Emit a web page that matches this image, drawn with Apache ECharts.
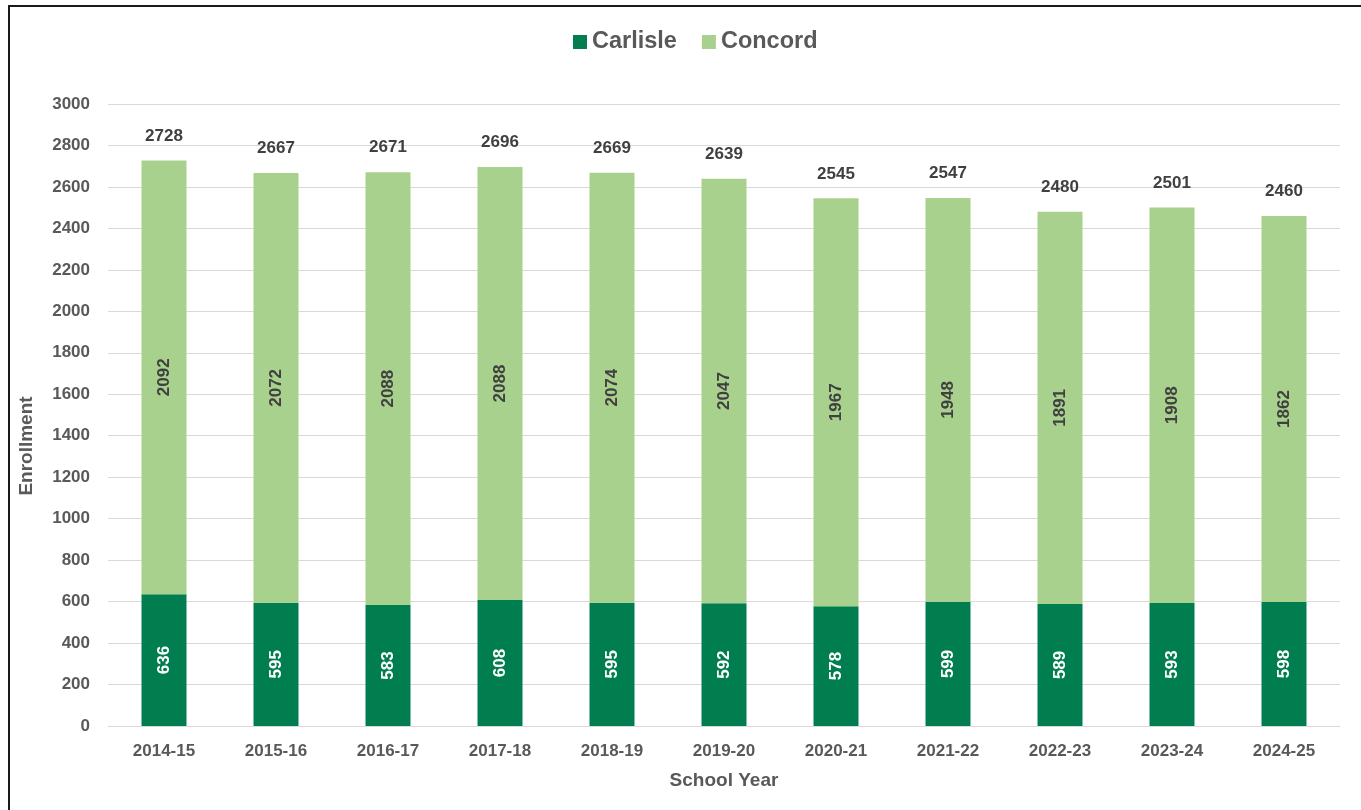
<!DOCTYPE html>
<html>
<head>
<meta charset="utf-8">
<style>
  html, body { margin: 0; padding: 0; background: #fff; overflow: hidden; }
  #frame { position: absolute; left: 8px; top: 5px; width: 1400px; height: 900px; border: 2px solid #1a1a1a; box-sizing: border-box; }
  #chart { position: absolute; left: 0; top: 0; width: 1361px; height: 810px; }
</style>
<script src="https://cdn.jsdelivr.net/npm/echarts@6/dist/echarts.min.js"></script>
</head>
<body>
<div id="frame"></div>
<div id="chart"></div>
<script>
const categories = ['2014-15','2015-16','2016-17','2017-18','2018-19','2019-20','2020-21','2021-22','2022-23','2023-24','2024-25'];
const carlisle = [636, 595, 583, 608, 595, 592, 578, 599, 589, 593, 598];
const concord = [2092, 2072, 2088, 2088, 2074, 2047, 1967, 1948, 1891, 1908, 1862];
const totals = [2728, 2667, 2671, 2696, 2669, 2639, 2545, 2547, 2480, 2501, 2460];
const yTicks = { min: 0, max: 3000, interval: 200 };

const FONT = '"Liberation Sans", Arial, sans-serif';
const chart = echarts.init(document.getElementById('chart'), null, { renderer: 'canvas' });

chart.setOption({
  animation: false,
  textStyle: { fontFamily: FONT },
  legend: {
    data: ['Carlisle', 'Concord'],
    left: 568, top: 25,
    itemWidth: 14, itemHeight: 14, itemGap: 25,
    icon: 'rect',
    textStyle: { fontFamily: FONT, fontSize: 23.5, fontWeight: 'bold', color: '#595959' }
  },
  grid: { left: 108, right: 21, top: 104, bottom: 84, containLabel: false },
  xAxis: {
    type: 'category',
    data: categories,
    name: 'School Year',
    nameLocation: 'middle',
    nameGap: 45,
    nameTextStyle: { fontFamily: FONT, fontSize: 19, fontWeight: 'bold', color: '#595959' },
    axisLine: { lineStyle: { color: '#d9d9d9', width: 1 } },
    axisTick: { show: false },
    axisLabel: { fontFamily: FONT, fontSize: 17, fontWeight: 'bold', color: '#595959', margin: 17 }
  },
  yAxis: {
    type: 'value',
    min: yTicks.min, max: yTicks.max, interval: yTicks.interval,
    axisLine: { show: false },
    axisTick: { show: false },
    splitLine: { lineStyle: { color: '#d9d9d9', width: 1 } },
    axisLabel: {
      fontFamily: FONT, fontSize: 17, fontWeight: 'bold', color: '#595959', margin: 18,
      formatter: function (v) { return String(v); }
    }
  },
  graphic: [{
    type: 'text',
    x: 27, y: 446,
    rotation: Math.PI / 2,
    style: {
      text: 'Enrollment',
      fontFamily: FONT, fontSize: 19, fontWeight: 'bold', fill: '#595959',
      align: 'center', verticalAlign: 'middle'
    }
  }],
  series: [
    {
      name: 'Carlisle', type: 'bar', stack: 'total', data: carlisle,
      barWidth: 45,
      itemStyle: { color: '#007E50' },
      label: {
        show: true, position: 'inside', rotate: 90,
        fontFamily: FONT, fontSize: 17, fontWeight: 'bold', color: '#ffffff'
      }
    },
    {
      name: 'Concord', type: 'bar', stack: 'total', data: concord,
      barWidth: 45,
      itemStyle: { color: '#A9D18E' },
      label: {
        show: true, position: 'inside', rotate: 90,
        fontFamily: FONT, fontSize: 17, fontWeight: 'bold', color: '#404040'
      }
    },
    {
      name: 'Total', type: 'bar', data: totals,
      barWidth: 45, barGap: '-100%', z: 0,
      itemStyle: { color: 'rgba(0,0,0,0)' },
      emphasis: { disabled: true },
      label: {
        show: true, position: 'top', distance: 16,
        fontFamily: FONT, fontSize: 17, fontWeight: 'bold', color: '#404040'
      }
    }
  ]
});
</script>
</body>
</html>
